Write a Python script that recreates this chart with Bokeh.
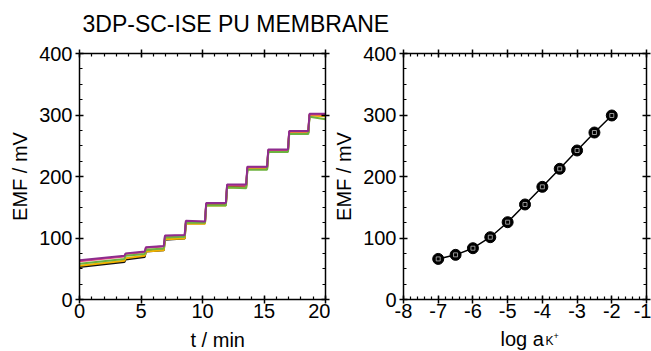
from bokeh.plotting import figure
from bokeh.layouts import column, row
from bokeh.models import (LinearAxis, Label, Range1d, SingleIntervalTicker,
                          CustomJSTickFormatter, Title)
from bokeh.embed import file_html
from bokeh.resources import INLINE

FONT = "Liberation Sans"

# ---------------- data ----------------
title_text = "3DP-SC-ISE PU MEMBRANE"

# time vertices of the step recording (min)
t_min = [0, 3.65, 3.75, 5.3, 5.4, 6.85, 6.95, 8.55, 8.65, 10.2, 10.3,
         11.9, 12.0, 13.55, 13.65, 15.25, 15.35, 16.95, 17.05, 18.6, 18.7, 20]

emf_black = [53, 61, 65, 69, 78, 80, 97, 99, 124, 124, 154, 154, 184, 184,
             213, 213, 242, 242, 272, 271, 300, 300]
emf_orange = [55, 63, 67, 71, 78, 80, 98, 99, 123, 123, 153, 153, 182, 182,
              212, 212, 241, 241, 271, 271, 299, 298]
emf_red = [62, 70, 74, 77, 84, 86, 103, 104, 127, 126, 156, 156, 186, 185,
           215, 215, 243, 243, 273, 273, 301, 301]
emf_green = [58, 66, 71, 74, 81, 83, 101, 102, 125, 125, 153, 153, 182, 181,
             211, 211, 240, 240, 269, 269, 297, 293]
emf_purple = [64, 71, 75, 78, 85, 87, 104, 105, 128, 127, 157, 157, 187, 187,
              216, 216, 244, 244, 274, 274, 302, 302]

series = [
    ("black", emf_black, "#111111"),
    ("orange", emf_orange, "#F2B200"),
    ("red", emf_red, "#E0457B"),
    ("green", emf_green, "#6DB33F"),
    ("purple", emf_purple, "#8E2C8E"),
]

log_a = [-7, -6.5, -6, -5.5, -5, -4.5, -4, -3.5, -3, -2.5, -2]
emf_cal = [66, 72.6, 83.4, 101.3, 125.7, 154.5, 183.2, 212.5, 242.3, 271.5, 299.2]

# ---------------- helpers ----------------
def style_axis(ax, major, minor, labels=True, standoff=3):
    ax.ticker = SingleIntervalTicker(interval=major, num_minor_ticks=minor)
    ax.axis_line_width = 1.5
    ax.axis_line_color = "black"
    ax.major_tick_line_width = 1.5
    ax.minor_tick_line_width = 1.2
    ax.major_tick_line_color = "black"
    ax.minor_tick_line_color = "black"
    ax.major_tick_in = 4
    ax.major_tick_out = 4
    ax.minor_tick_in = 3
    ax.minor_tick_out = 0
    ax.major_label_text_font = FONT
    ax.major_label_text_font_size = "20px"
    ax.major_label_text_color = "black"
    ax.major_label_standoff = standoff
    ax.axis_label_text_font = FONT
    ax.axis_label_text_font_size = "20px"
    ax.axis_label_text_font_style = "normal"
    ax.axis_label_text_color = "black"
    ax.axis_label_standoff = 5
    if labels:
        ax.formatter = CustomJSTickFormatter(code="return tick.toString()")
    else:
        ax.formatter = CustomJSTickFormatter(code="return ''")
        ax.major_label_standoff = 0


def make_panel(width, left, xr, xmajor, xminor):
    p = figure(width=width, height=286, output_backend="svg",
               toolbar_location=None, x_range=xr, y_range=Range1d(0, 400),
               min_border_left=left, min_border_right=5,
               min_border_top=13, min_border_bottom=27, title=None)
    p.xgrid.visible = False
    p.ygrid.visible = False
    p.outline_line_color = None
    p.background_fill_color = "white"
    p.border_fill_color = "white"
    style_axis(p.xaxis[0], xmajor, xminor, standoff=0)
    ly = p.yaxis[0]
    style_axis(ly, 100, 4)
    ly.axis_label = "EMF / mV"
    top = LinearAxis()
    style_axis(top, xmajor, xminor, labels=False)
    p.add_layout(top, "above")
    right = LinearAxis()
    style_axis(right, 100, 4, labels=False)
    p.add_layout(right, "right")
    return p


def add_text(p, x, y, text, size):
    p.add_layout(Label(x=x, y=y, x_units="screen", y_units="screen",
                       text=text, text_font=FONT, text_font_size=size,
                       text_color="black", text_baseline="alphabetic"))

# ---------------- title ----------------
pt = figure(width=651, height=40, output_backend="svg", toolbar_location=None,
            x_range=Range1d(0, 1), y_range=Range1d(0, 1),
            x_axis_type=None, y_axis_type=None,
            min_border_left=0, min_border_right=0, min_border_bottom=0,
            min_border_top=36, title=None)
pt.grid.visible = False
pt.outline_line_color = None
pt.add_layout(Title(text=title_text, align="left", offset=82, standoff=0,
                    text_font=FONT, text_font_size="23px",
                    text_font_style="normal", text_color="black"), "above")

# ---------------- left panel ----------------
p1 = make_panel(330, 79, Range1d(0, 20), 5, 5)
for name, vals, col in series:
    p1.line(t_min, vals, line_color=col, line_width=2)

# ---------------- right panel ----------------
p2 = make_panel(321, 70, Range1d(-8, -1), 1, 5)
p2.line(log_a, emf_cal, line_color="black", line_width=1.5)
p2.scatter(log_a, emf_cal, marker="circle", size=11, fill_color="black",
           line_color="black")
p2.scatter(log_a, emf_cal, marker="square", size=4, fill_color=None,
           line_color="#bbbbbb", line_width=0.8)

# ---------------- x-axis titles strip ----------------
pb = figure(width=651, height=25, output_backend="svg", toolbar_location=None,
            x_range=Range1d(0, 1), y_range=Range1d(0, 1),
            x_axis_type=None, y_axis_type=None, min_border=0, title=None)
pb.grid.visible = False
pb.outline_line_color = None
add_text(pb, 190, 12, "t / min", "20px")
add_text(pb, 500, 13, "log a", "20px")
add_text(pb, 545, 11, "K", "12px")
add_text(pb, 553, 16, "+", "9px")

layout = column(pt, row(p1, p2), pb)
open("out.html", "w").write(file_html(layout, INLINE))
